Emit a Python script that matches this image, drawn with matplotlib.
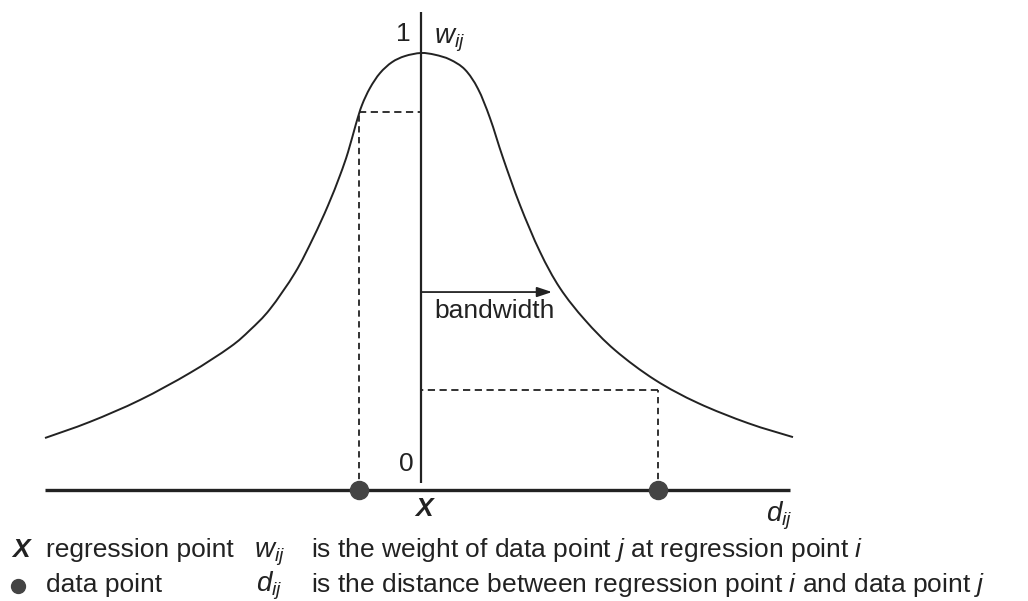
import numpy as np
import matplotlib.pyplot as plt
from matplotlib.path import Path
from matplotlib.patches import PathPatch
from matplotlib.lines import Line2D

plt.rcParams['font.family'] = ['Liberation Sans', 'DejaVu Sans']
plt.rcParams['mathtext.fontset'] = 'custom'
plt.rcParams['mathtext.rm'] = 'Liberation Sans'
plt.rcParams['mathtext.it'] = 'Liberation Sans:italic'
plt.rcParams['mathtext.bf'] = 'Liberation Sans:bold'

# kernel curve (distance from regression point, weight)
curve_d = [-376, -331, -281, -231, -191, -171, -151, -126, -108, -93, -81,
           -73, -65, -59, -51, -41, -29, -16, 0, 14, 29, 44, 57, 69, 82, 99,
           119, 139, 164, 194, 234, 277, 327, 372]
curve_w = [0.119, 0.156, 0.206, 0.268, 0.327, 0.366, 0.414, 0.497, 0.576,
           0.651, 0.720, 0.773, 0.838, 0.881, 0.920, 0.954, 0.979, 0.993, 1.0,
           0.996, 0.985, 0.962, 0.918, 0.851, 0.760, 0.652, 0.545, 0.462,
           0.389, 0.320, 0.252, 0.199, 0.153, 0.121]

# data points on the distance axis and their weights
data_d = [-62, 237]
data_w = [0.865, 0.229]
bandwidth = 131
bandwidth_w = 0.453

# extents of the two axes
d_axis = [-376, 369]
w_axis = [0.016, 1.094]

ink = '#222222'
W, H = 1028, 601

fig = plt.figure(figsize=(W / 100, H / 100), dpi=100)
ax = fig.add_axes([0, 0, 1, 1])
# pixel 421 is the regression point, pixel row 490 is weight 0, 53 is weight 1
ax.set_xlim(-421, W - 421)
ax.set_ylim((490 - H) / 437, 490 / 437)
ax.axis('off')

# smooth curve through the read points (Catmull-Rom as cubic bezier path)
pts = np.column_stack([curve_d, curve_w])
verts = [pts[0]]
codes = [Path.MOVETO]
for i in range(len(pts) - 1):
    p0 = pts[max(i - 1, 0)]
    p1 = pts[i]
    p2 = pts[i + 1]
    p3 = pts[min(i + 2, len(pts) - 1)]
    verts += [p1 + (p2 - p0) / 6, p2 - (p3 - p1) / 6, p2]
    codes += [Path.CURVE4] * 3
ax.add_patch(PathPatch(Path(verts, codes), fill=False, edgecolor=ink, lw=1.4))

ax.plot(d_axis, [0, 0], color=ink, lw=2.4, solid_capstyle='butt')
ax.plot([0, 0], w_axis, color=ink, lw=1.6, solid_capstyle='butt')

for d, w in zip(data_d, data_w):
    ax.plot([d, d], [0, w], color=ink, lw=1.3, dashes=(3.5, 2.5))
    ax.plot([d, 0], [w, w], color=ink, lw=1.3, dashes=(4, 2.5))

ax.plot(data_d, [0, 0], 'o', color='#444444', ms=13, zorder=5)

ax.annotate('', xy=(bandwidth, bandwidth_w), xytext=(0, bandwidth_w),
            arrowprops=dict(arrowstyle='-|>,head_length=0.9,head_width=0.3',
                            color=ink, lw=1.3, shrinkA=0, shrinkB=0))


def px(x, y):
    return x / W, 1 - y / H


fs = 19
fig.text(*px(434, 311), 'bandwidth', fontsize=fs, color=ink, va='center', ha='left')
fig.text(*px(411, 34), '1', fontsize=fs, color=ink, va='center', ha='right')
fig.text(*px(434, 44), r'$w_{ij}$', fontsize=20, color=ink, va='baseline', ha='left')
fig.text(*px(414, 464), '0', fontsize=fs, color=ink, va='center', ha='right')
fig.text(*px(424, 509), 'X', fontsize=fs, color=ink, va='center', ha='center',
         fontweight='bold', style='italic')
fig.text(*px(766, 521), r'$d_{ij}$', fontsize=20, color=ink, va='baseline', ha='left')

# legend lines
fig.text(*px(12, 557), 'X', fontsize=fs, color=ink, va='baseline', ha='left',
         fontweight='bold', style='italic')
fig.text(*px(46, 557), 'regression point', fontsize=fs, color=ink, va='baseline')
fig.text(*px(254, 557), r'$w_{ij}$', fontsize=20, color=ink, va='baseline')
fig.text(*px(311, 557), r'is the weight of data point $j$ at regression point $i$',
         fontsize=fs, color=ink, va='baseline')

fig.add_artist(Line2D([18 / W], [1 - 586 / H], marker='o', ms=10,
                      color='#444444', transform=fig.transFigure))
fig.text(*px(46, 592), 'data point', fontsize=fs, color=ink, va='baseline')
fig.text(*px(256, 591), r'$d_{ij}$', fontsize=20, color=ink, va='baseline')
fig.text(*px(311, 592),
         r'is the distance between regression point $i$ and data point $j$',
         fontsize=fs, color=ink, va='baseline')

fig.savefig('out.png', dpi=100, facecolor='white')
